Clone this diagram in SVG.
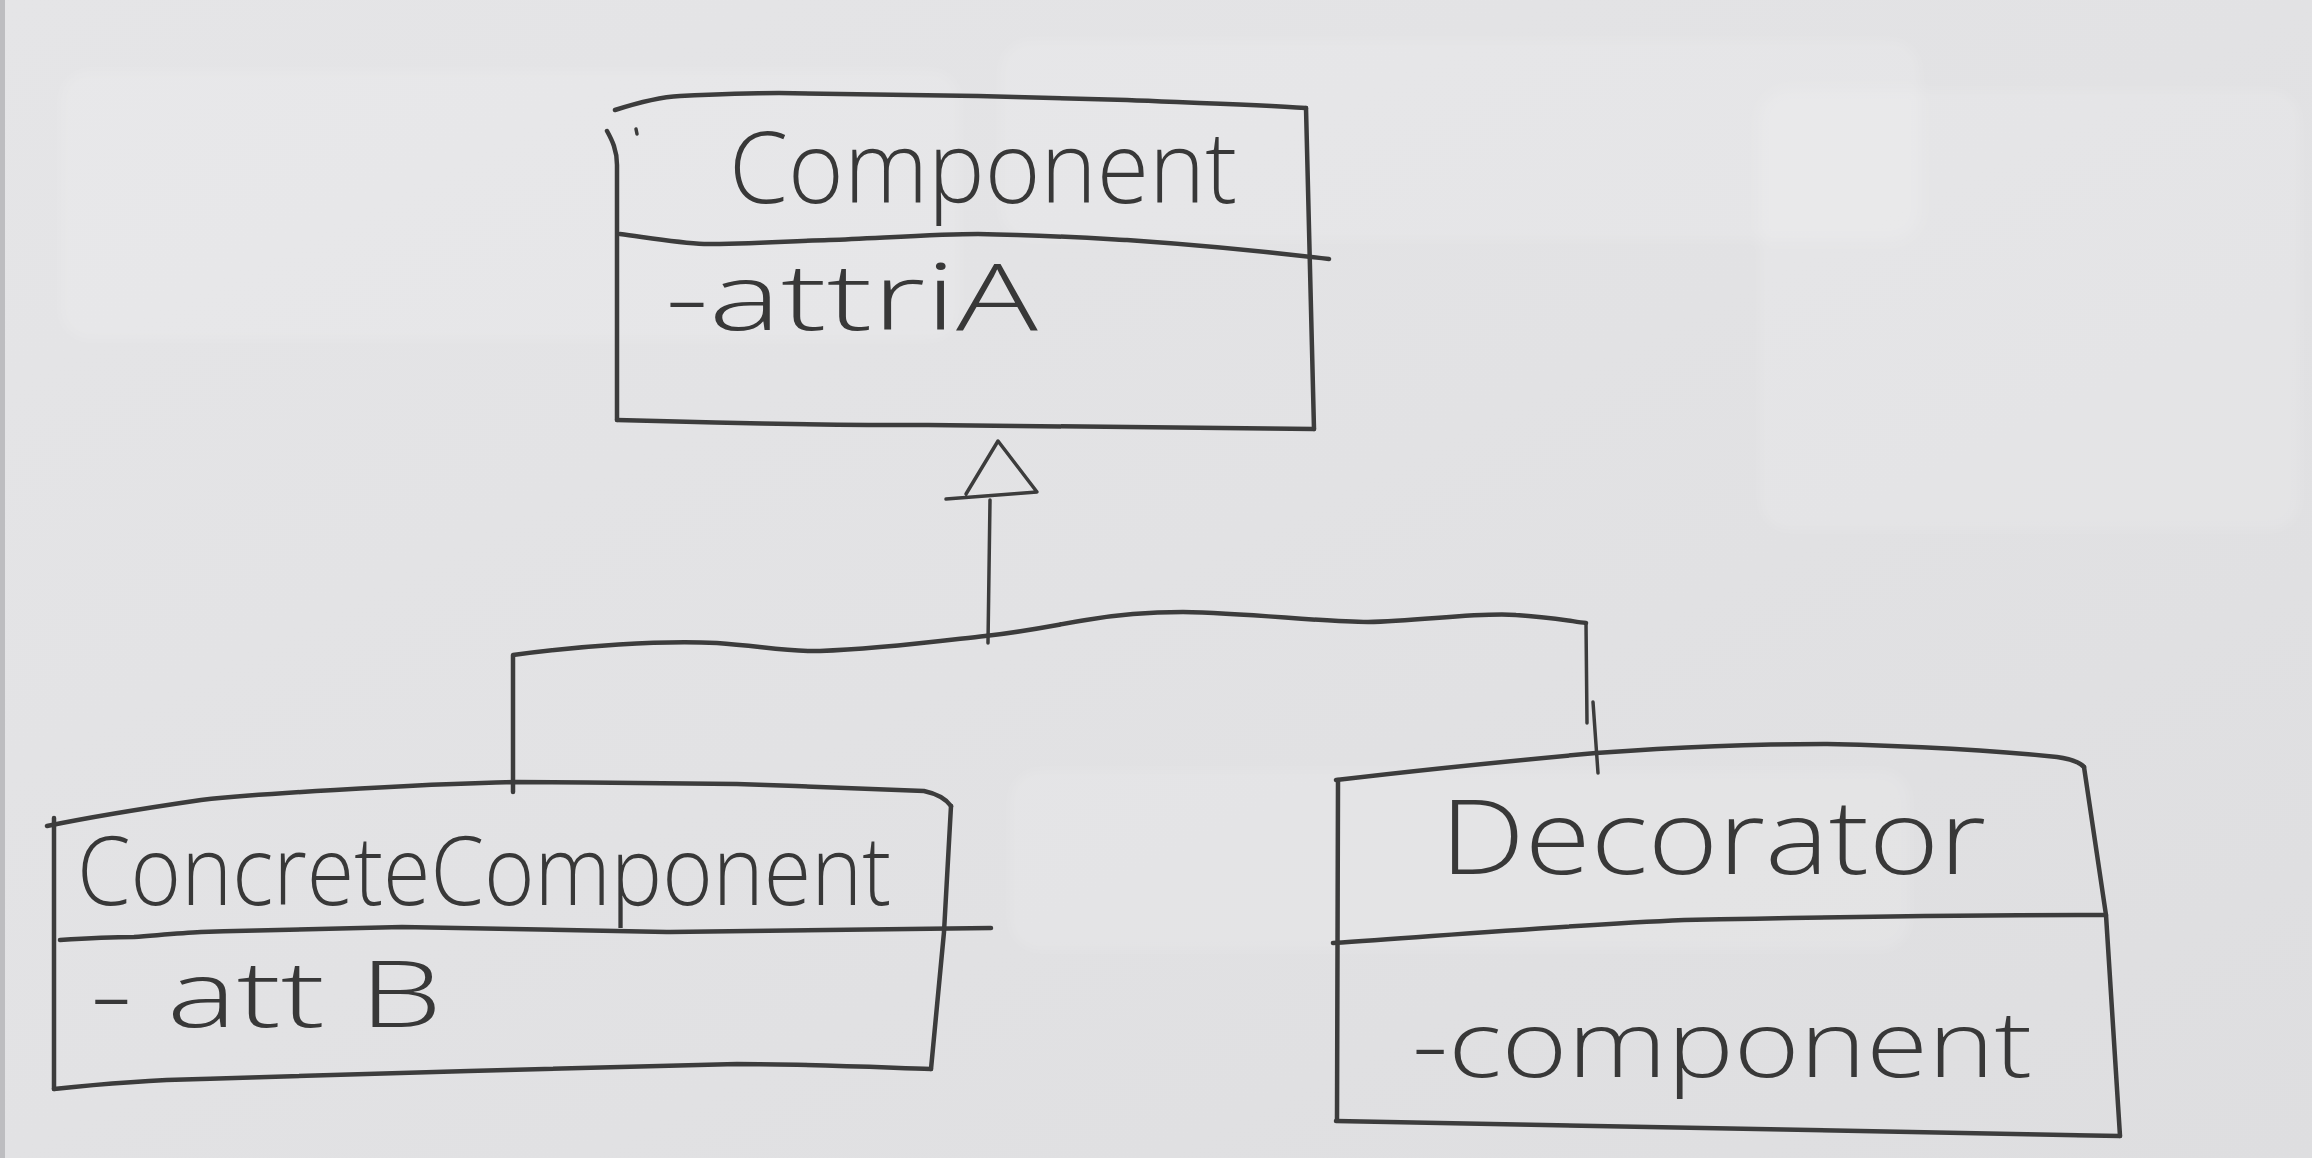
<svg xmlns="http://www.w3.org/2000/svg" width="2312" height="1158" viewBox="0 0 2312 1158">
  <defs>
    <linearGradient id="paper" x1="0" y1="0" x2="1" y2="1">
      <stop offset="0" stop-color="#e5e5e7"/>
      <stop offset="0.5" stop-color="#e2e2e4"/>
      <stop offset="1" stop-color="#dedee0"/>
    </linearGradient>
    <filter id="soft" x="-10%" y="-10%" width="120%" height="120%">
      <feGaussianBlur stdDeviation="6"/>
    </filter>
    <style>
      .ln { fill: none; stroke: #3c3c3c; stroke-width: 4.5; stroke-linecap: round; stroke-linejoin: round; }
      .thin { fill: none; stroke: #3c3c3c; stroke-width: 3.5; stroke-linecap: round; stroke-linejoin: round; }
      .txt { font-family: "Open Sans", "Liberation Sans", sans-serif; font-weight: 300; fill: #383838; }
      .patch { fill: #ffffff; opacity: 0.13; }
    </style>
  </defs>

  <rect x="0" y="0" width="2312" height="1158" fill="url(#paper)"/>
  <rect x="0" y="0" width="5" height="1158" fill="#bdbdc0"/>
  <g id="paper-patches" filter="url(#soft)">
    <rect class="patch" x="60" y="70" width="900" height="270" rx="30"/>
    <rect class="patch" x="1000" y="40" width="920" height="200" rx="30"/>
    <rect class="patch" x="1760" y="90" width="540" height="440" rx="30"/>
    <rect class="patch" x="1010" y="770" width="900" height="180" rx="30"/>
  </g>

  <g id="connectors">
    <path class="thin" d="M946,499 L1037,492 L998,441 L966,494"/>
    <path class="thin" d="M990,500 L988,643"/>
    <path class="ln" d="M513,792 L513,655 C580,646 660,640 717,643 C760,646 790,652 820,651 C880,649 940,641 985,636 C1030,631 1060,624 1086,620 C1120,614 1150,612 1183,612 C1250,613 1320,622 1368,622 C1420,621 1480,612 1516,615 C1550,617 1570,621 1586,623"/>
    <path class="thin" d="M1586,623 L1587,723"/>
    <path class="thin" d="M1593,702 L1598,773"/>
  </g>

  <g id="node-component">
    <path class="ln" d="M615,110 C640,102 660,97 680,96 C720,94 750,93 779,93 C850,94 920,95 978,96 C1040,98 1090,99 1127,100 C1200,103 1260,105 1306,108"/>
    <path class="ln" d="M607,131 C612,140 617,150 617,165 L617,420"/>
    <path class="ln" d="M617,420 C720,423 830,425 928,425 C1050,426 1180,428 1314,429"/>
    <path class="ln" d="M1306,108 L1314,429"/>
    <path class="ln" d="M620,234 C650,238 680,243 704,244 C750,244 790,241 829,240 C880,238 940,234 978,234 C1040,235 1090,238 1127,240 C1200,245 1270,252 1329,259"/>
    <path class="thin" d="M636,129 L637,134"/>
    <text class="txt" x="729" y="203" font-size="100" textLength="508" lengthAdjust="spacingAndGlyphs">Component</text>
    <text class="txt" x="665" y="330" font-size="92" textLength="373" lengthAdjust="spacingAndGlyphs">-attriA</text>
  </g>

  <g id="node-concrete">
    <path class="ln" d="M47,826 C100,815 160,806 201,800 C250,795 300,792 335,790 C400,786 470,783 516,782 C590,782 670,784 737,784 C800,786 870,789 924,791 C938,794 946,799 951,806"/>
    <path class="ln" d="M54,818 L54,1089"/>
    <path class="ln" d="M54,1089 C100,1084 150,1080 201,1079 C300,1076 400,1073 469,1071 C560,1068 650,1066 737,1064 C800,1064 870,1067 931,1069"/>
    <path class="ln" d="M951,806 L944,932 L931,1069"/>
    <path class="ln" d="M60,940 C90,938 110,937 134,937 C160,935 180,933 201,932 C270,930 340,928 402,927 C490,928 580,931 670,932 C780,931 890,929 991,928"/>
    <text class="txt" x="77" y="905" font-size="96" textLength="814" lengthAdjust="spacingAndGlyphs">ConcreteComponent</text>
    <text class="txt" x="90" y="1027" font-size="92" textLength="352" lengthAdjust="spacingAndGlyphs">- att B</text>
  </g>

  <g id="node-decorator">
    <path class="ln" d="M1336,780 C1420,770 1520,760 1596,753 C1680,747 1760,744 1827,744 C1920,746 2000,751 2057,757 C2070,759 2080,762 2084,767"/>
    <path class="ln" d="M1338,780 L1337,1120"/>
    <path class="ln" d="M1336,1121 C1600,1126 1860,1131 2120,1136"/>
    <path class="ln" d="M2084,767 L2106,915 L2120,1136"/>
    <path class="ln" d="M1333,943 C1450,935 1570,925 1684,920 C1830,917 1970,915 2106,915"/>
    <text class="txt" x="1440" y="874" font-size="104" textLength="546" lengthAdjust="spacingAndGlyphs">Decorator</text>
    <text class="txt" x="1412" y="1077" font-size="92" textLength="620" lengthAdjust="spacingAndGlyphs">-component</text>
  </g>
</svg>
